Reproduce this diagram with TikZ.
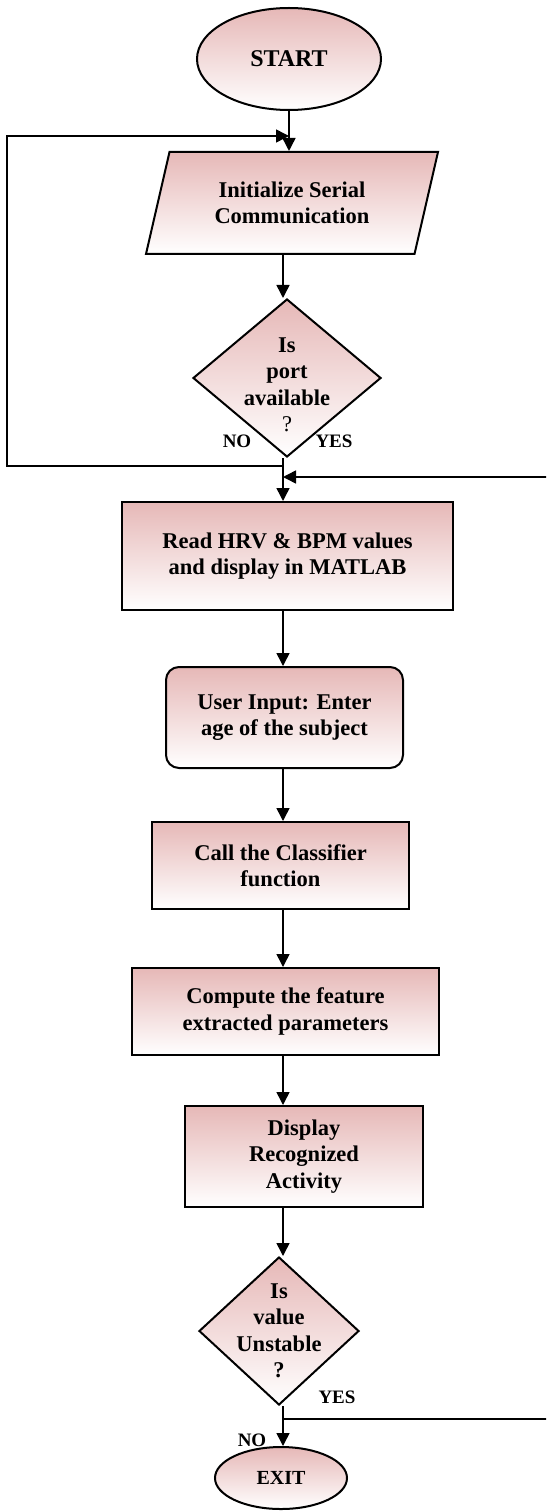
\documentclass[tikz,border=0pt]{standalone}
\usepackage{fontspec}
\setmainfont{Liberation Serif}
\usetikzlibrary{arrows.meta, shapes.geometric}
\definecolor{pinktop}{RGB}{230,184,183}
\newcommand{\flowfont}{\fontsize{22.5}{26.5}\selectfont\bfseries}
\newcommand{\answerfont}{\fontsize{19}{22}\selectfont\bfseries}

\begin{document}
\begin{tikzpicture}[x=1pt, y=-1pt, >={Triangle[length=13pt,width=13pt]},
    block/.style={draw, line width=2pt, top color=pinktop, bottom color=white,
        font=\flowfont, align=center, inner sep=0pt},
    process/.style={block, rectangle},
    userio/.style={block, rectangle, rounded corners=13pt},
    terminal/.style={block, ellipse},
    inputbox/.style={block, trapezium, trapezium left angle=61,
        trapezium right angle=119, trapezium stretches body},
    decision/.style={block, diamond},
    conn/.style={line width=1.5pt},
    answer/.style={font=\answerfont, inner sep=0pt}]
    \useasboundingbox (0,0) rectangle (546,1511);
    \clip (0,0) rectangle (546,1511);

    % main column
    \node[terminal, minimum width=184pt, minimum height=102pt,
        font=\fontsize{24}{28}\selectfont\bfseries] (start) at (289,59) {START};
    \node[inputbox, minimum width=292pt, minimum height=102pt] (init) at (292,203)
        {Initialize Serial\\Communication};
    \node[decision, minimum width=188pt, minimum height=158pt,
        label={[font=\flowfont, align=center, yshift=-7pt]center:Is\\port\\available\\{\mdseries ?}}]
        (avail) at (287,378) {};
    \node[process, minimum width=331pt, minimum height=108pt] (read) at (287.5,556)
        {Read HRV \& BPM values\\and display in MATLAB};
    \node[userio, minimum width=237pt, minimum height=101pt] (user) at (284.5,717.5)
        {User Input: Enter\\age of the subject};
    \node[process, minimum width=257pt, minimum height=87pt] (classify) at (280.5,865.5)
        {Call the Classifier\\function};
    \node[process, minimum width=307pt, minimum height=87pt] (compute) at (285.5,1011.5)
        {Compute the feature\\extracted parameters};
    \node[process, minimum width=238pt, minimum height=101pt] (show) at (304,1156.5)
        {Display\\Recognized\\Activity};
    \node[decision, minimum width=160pt, minimum height=148pt,
        label={[font=\flowfont, align=center]center:Is\\value\\Unstable\\?}]
        (unstable) at (279,1331) {};
    \node[terminal, minimum width=132pt, minimum height=62pt,
        font=\fontsize{20}{24}\selectfont\bfseries] (exit) at (281,1478) {EXIT};

    % branch labels
    \node[answer] (no1) at (237,441) {NO};
    \node[answer] (yes1) at (334,441) {YES};
    \node[answer] (yes2) at (337,1397) {YES};
    \node[answer] (no2) at (252,1440) {NO};

    % turning points
    \coordinate (axis) at (283,0);
    \coordinate (noback) at (7,466);
    \coordinate (retop) at (7,136);
    \coordinate (yesout) at (560,1419);
    \coordinate (yesin) at (560,477);

    % connectors
    \draw[conn,->] (start.south) -- (start.south |- init.north);
    \draw[conn,->] (init.south -| axis) -- (avail.north -| axis);
    \draw[conn,->] (avail.south -| axis) -- (read.north -| axis);
    \draw[conn,->] (avail.south -| axis) |- (noback) -- (retop) -- (retop -| start.south);
    \draw[conn,->] (read.south -| axis) -- (user.north -| axis);
    \draw[conn,->] (user.south -| axis) -- (classify.north -| axis);
    \draw[conn,->] (classify.south -| axis) -- (compute.north -| axis);
    \draw[conn,->] (compute.south -| axis) -- (show.north -| axis);
    \draw[conn,->] (show.south -| axis) -- (unstable.north -| axis);
    \draw[conn,->] (unstable.south -| axis) -- (exit.north -| axis);
    \draw[conn,->] (yesout -| axis) -- (yesout) -- (yesin) -- (yesin -| axis);
\end{tikzpicture}
\end{document}
